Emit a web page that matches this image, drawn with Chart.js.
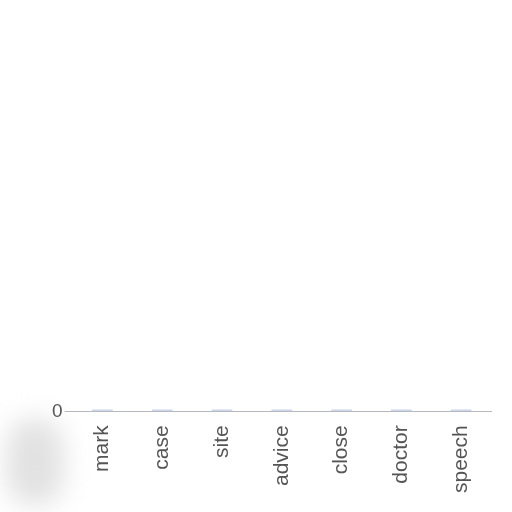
<!DOCTYPE html>
<html><head><meta charset="utf-8">
<script src="https://cdn.jsdelivr.net/npm/chart.js@4/dist/chart.umd.min.js"></script>
<style>
html,body{margin:0;padding:0;background:#fff}
#wrap{position:relative;width:512px;height:512px;overflow:hidden}
#shade{position:absolute;left:6px;top:418px;width:58px;height:88px;background:#e2e2e2;filter:blur(13px);border-radius:28px}
canvas{display:block;position:absolute;left:0;top:0}
</style>
</head><body>
<div id="wrap"><div id="shade"></div><canvas id="c" width="512" height="512"></canvas></div>
<script>
const categories = ["mark","case","site","advice","close","doctor","speech"];
const values = [0,0,0,0,0,0,0];
const yTicks = [0];

new Chart(document.getElementById('c'), {
  type: 'bar',
  data: {
    labels: categories,
    datasets: [{
      data: values,
      backgroundColor: 'rgba(160,180,220,0.55)',
      borderWidth: 0,
      minBarLength: 1.5,
      barThickness: 20
    }]
  },
  options: {
    responsive: false,
    animation: false,
    layout: { padding: { left: 50, right: 21, top: 10, bottom: 5 } },
    plugins: { legend: { display: false }, tooltip: { enabled: false } },
    scales: {
      x: {
        grid: { display: false, drawTicks: false },
        border: { display: true, color: '#b5b8c0' },
        ticks: { minRotation: 90, maxRotation: 90, color: '#555', padding: 14,
                 font: { family: 'Liberation Sans, Arial', size: 21 } }
      },
      y: {
        min: 0, max: 1,
        afterBuildTicks: (axis) => { axis.ticks = yTicks.map(v => ({ value: v })); },
        grid: { display: true, drawOnChartArea: false, drawTicks: true, tickLength: 8, color: '#b5b8c0' },
        border: { display: false },
        ticks: { color: '#555', padding: 2, font: { family: 'Liberation Sans, Arial', size: 19 } }
      }
    }
  }
});
</script>
</body></html>
